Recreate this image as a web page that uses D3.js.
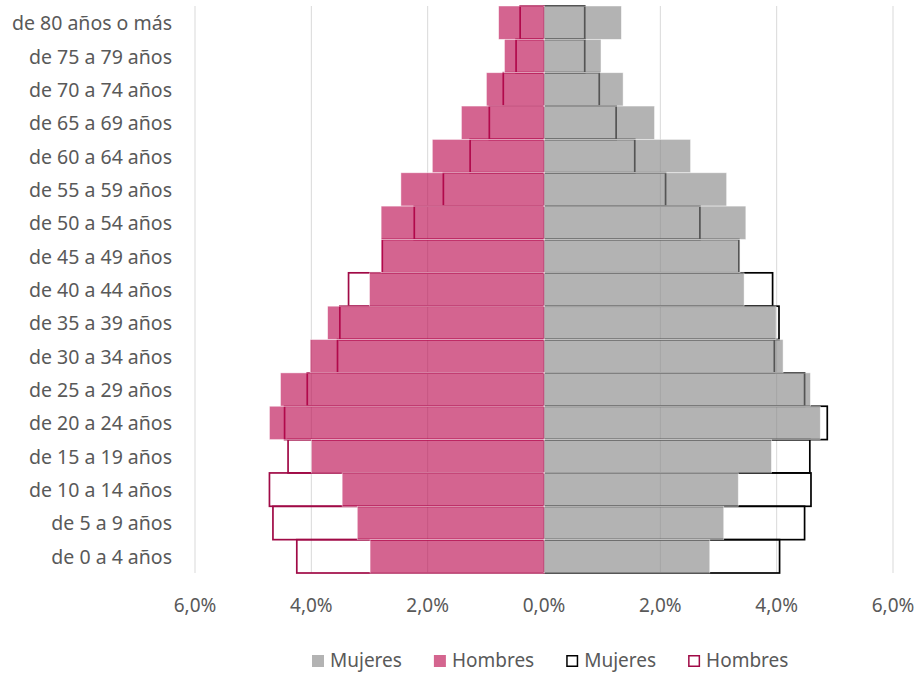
<!DOCTYPE html>
<html>
<head>
<meta charset="utf-8">
<script src="https://cdn.jsdelivr.net/npm/d3@7"></script>
<style>
  body { margin: 0; background: #fff; }
  svg text { font-family: "Noto Sans", "Open Sans", sans-serif; fill: #595959; }
</style>
</head>
<body>
<div id="chart"></div>
<script>
// Pirámide de población: barras rellenas (un año) y barras con contorno (otro año)

const ageGroups = [
  'de 80 años o más', 'de 75 a 79 años', 'de 70 a 74 años', 'de 65 a 69 años',
  'de 60 a 64 años', 'de 55 a 59 años', 'de 50 a 54 años', 'de 45 a 49 años',
  'de 40 a 44 años', 'de 35 a 39 años', 'de 30 a 34 años', 'de 25 a 29 años',
  'de 20 a 24 años', 'de 15 a 19 años', 'de 10 a 14 años', 'de 5 a 9 años',
  'de 0 a 4 años'
];

// % of population, same order as ageGroups
const mujeresFill = [1.33, 0.98, 1.36, 1.90, 2.52, 3.14, 3.47, 3.37, 3.44, 3.99, 4.11, 4.58, 4.75, 3.91, 3.34, 3.09, 2.85];
const hombresFill = [0.78, 0.68, 0.99, 1.42, 1.92, 2.46, 2.80, 2.80, 3.00, 3.72, 4.02, 4.53, 4.72, 4.00, 3.47, 3.21, 2.99];
const mujeresLine = [0.70, 0.70, 0.95, 1.24, 1.56, 2.09, 2.68, 3.35, 3.93, 4.04, 3.96, 4.48, 4.87, 4.57, 4.59, 4.48, 4.05];
const hombresLine = [0.41, 0.48, 0.70, 0.94, 1.27, 1.73, 2.23, 2.78, 3.36, 3.51, 3.55, 4.07, 4.46, 4.40, 4.72, 4.66, 4.25];

const xTicks = [-6, -4, -2, 0, 2, 4, 6];

const width = 919, height = 673;
const plot = { left: 195, right: 893, top: 6, bottom: 573 };
const fontSize = '19.5px';

const svg = d3.select('#chart')
  .append('svg')
  .attr('width', width)
  .attr('height', height);

const x = d3.scaleLinear().domain([-6, 6]).range([plot.left, plot.right]);
const y = d3.scaleBand().domain(ageGroups).range([plot.top, plot.bottom]).padding(0);

// gridlines
svg.append('g')
  .selectAll('line')
  .data(xTicks)
  .enter()
  .append('line')
  .attr('x1', d => x(d)).attr('x2', d => x(d))
  .attr('y1', plot.top).attr('y2', plot.bottom)
  .attr('stroke', '#d9d9d9')
  .attr('stroke-width', 1);

// tick labels
svg.append('g')
  .selectAll('text')
  .data(xTicks)
  .enter()
  .append('text')
  .attr('x', d => x(d))
  .attr('y', 605)
  .attr('text-anchor', 'middle')
  .attr('dominant-baseline', 'central')
  .style('font-size', '19px')
  .text(d => d3.format('.1f')(Math.abs(d)).replace('.', ',') + '%');

// category labels
svg.append('g')
  .selectAll('text')
  .data(ageGroups)
  .enter()
  .append('text')
  .attr('x', 172)
  .attr('y', d => y(d) + y.bandwidth() / 2)
  .attr('text-anchor', 'end')
  .attr('dominant-baseline', 'central')
  .style('font-size', fontSize)
  .text(d => d);

// outlined bars (drawn first, under the filled ones)
function outlineBars(values, side, color) {
  svg.append('g')
    .selectAll('rect')
    .data(values)
    .enter()
    .append('rect')
    .attr('x', d => side < 0 ? x(-d) : x(0))
    .attr('y', (d, i) => y(ageGroups[i]))
    .attr('width', d => Math.abs(x(d) - x(0)))
    .attr('height', y.bandwidth())
    .attr('fill', 'none')
    .attr('stroke', color)
    .attr('stroke-width', 1.7);
}
outlineBars(mujeresLine, 1, '#000000');
outlineBars(hombresLine, -1, '#a00a46');

// filled bars, semi transparent
function fillBars(values, side, color) {
  svg.append('g')
    .selectAll('rect')
    .data(values)
    .enter()
    .append('rect')
    .attr('x', d => side < 0 ? x(-d) : x(0))
    .attr('y', (d, i) => y(ageGroups[i]))
    .attr('width', d => Math.abs(x(d) - x(0)))
    .attr('height', y.bandwidth())
    .attr('fill', color)
    .attr('fill-opacity', 0.63)
    .attr('stroke', '#ffffff')
    .attr('stroke-opacity', 0.6)
    .attr('stroke-width', 0.75);
}
fillBars(mujeresFill, 1, 'rgb(135,135,135)');
fillBars(hombresFill, -1, 'rgb(187,9,79)');

// legend
const legendItems = [
  { label: 'Mujeres', fill: '#b3b3b3', stroke: 'none' },
  { label: 'Hombres', fill: '#d4658f', stroke: 'none' },
  { label: 'Mujeres', fill: '#ffffff', stroke: '#000000' },
  { label: 'Hombres', fill: '#ffffff', stroke: '#a00a46' }
];
const legend = svg.append('g');
let lx = 312;
legendItems.forEach(item => {
  const g = legend.append('g');
  g.append('rect')
    .attr('x', item.stroke === 'none' ? lx : lx + 0.75)
    .attr('y', item.stroke === 'none' ? 655 : 655.75)
    .attr('width', item.stroke === 'none' ? 12 : 10.5)
    .attr('height', item.stroke === 'none' ? 12 : 10.5)
    .attr('fill', item.fill)
    .attr('stroke', item.stroke)
    .attr('stroke-width', 1.5);
  const t = g.append('text')
    .attr('x', lx + 18)
    .attr('y', 660)
    .attr('dominant-baseline', 'central')
    .style('font-size', '19px')
    .text(item.label);
  lx += 18 + t.node().getComputedTextLength() + 32;
});
</script>
</body>
</html>
